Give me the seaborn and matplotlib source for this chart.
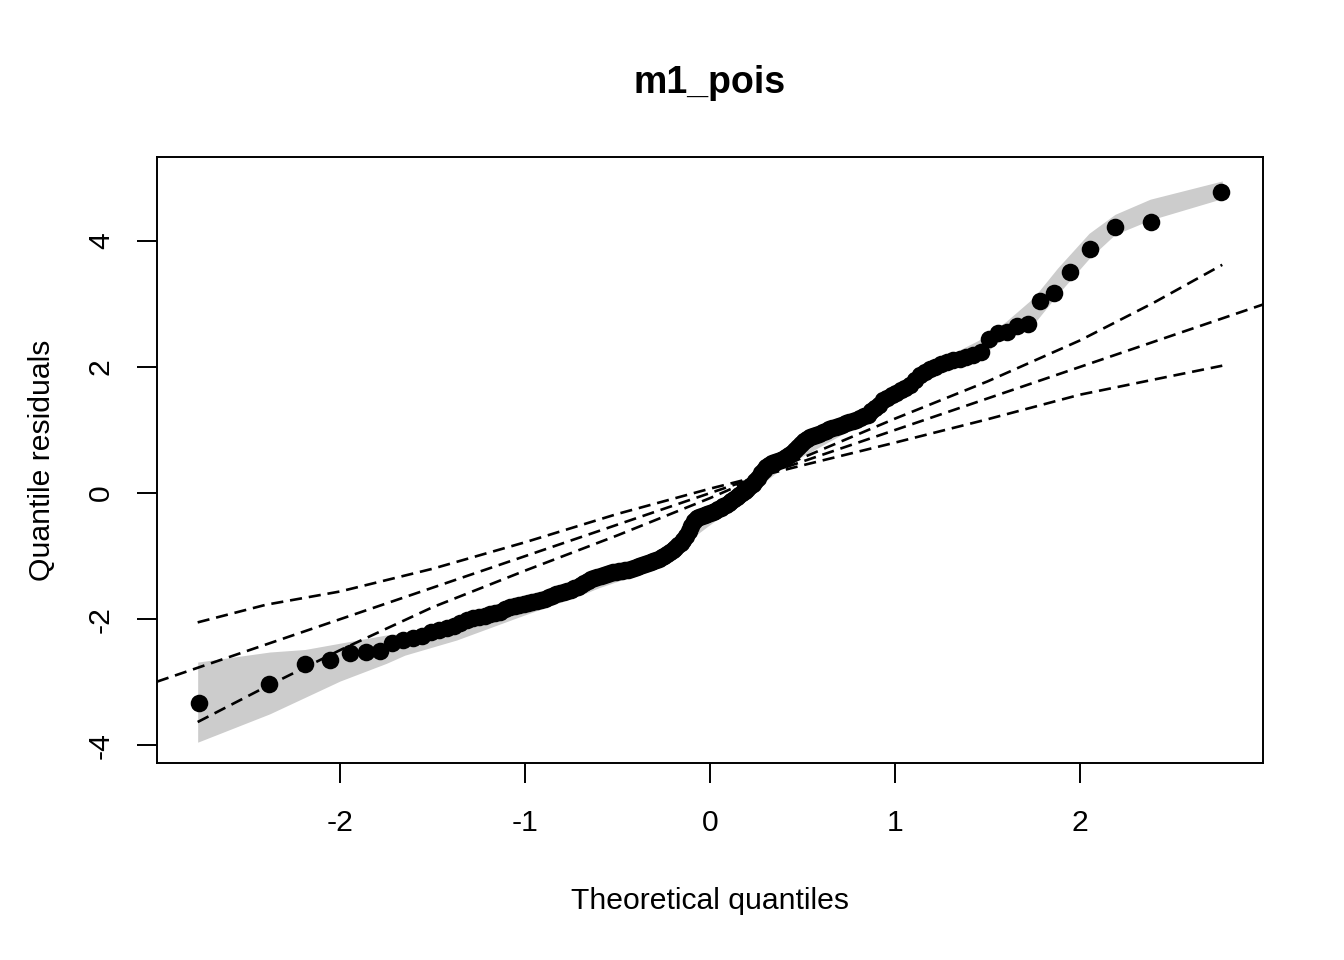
from statistics import NormalDist
import numpy as np
import pandas as pd
import matplotlib
matplotlib.use('Agg')
import matplotlib.pyplot as plt
import seaborn as sns

sns.set_style('ticks')
matplotlib.rcParams['font.family'] = ['Liberation Sans', 'DejaVu Sans']
matplotlib.rcParams['text.color'] = 'black'
matplotlib.rcParams['axes.labelcolor'] = 'black'

# sorted quantile residuals of m1_pois
resid = [
    -3.33, -3.02, -2.71, -2.65, -2.54, -2.52, -2.51, -2.37, -2.33, -2.30,
    -2.27, -2.21, -2.17, -2.14, -2.11, -2.06, -2.02, -1.98, -1.97, -1.95,
    -1.92, -1.90, -1.89, -1.84, -1.81, -1.79, -1.78, -1.76, -1.75, -1.73,
    -1.71, -1.70, -1.68, -1.65, -1.63, -1.60, -1.59, -1.57, -1.56, -1.54,
    -1.51, -1.49, -1.46, -1.43, -1.40, -1.37, -1.35, -1.33, -1.32, -1.30,
    -1.29, -1.27, -1.25, -1.25, -1.24, -1.24, -1.22, -1.22, -1.21, -1.19,
    -1.17, -1.16, -1.14, -1.13, -1.11, -1.10, -1.08, -1.06, -1.05, -1.02,
    -1.00, -0.97, -0.94, -0.90, -0.87, -0.83, -0.79, -0.75, -0.68, -0.60,
    -0.52, -0.44, -0.40, -0.38, -0.37, -0.35, -0.33, -0.32, -0.30, -0.29,
    -0.25, -0.24, -0.21, -0.19, -0.16, -0.13, -0.10, -0.06, -0.03, 0.00,
    0.03, 0.06, 0.11, 0.14, 0.19, 0.24, 0.32, 0.37, 0.41, 0.44,
    0.48, 0.49, 0.51, 0.52, 0.54, 0.57, 0.60, 0.63, 0.68, 0.73,
    0.78, 0.83, 0.86, 0.89, 0.90, 0.92, 0.94, 0.97, 0.98, 1.02,
    1.03, 1.05, 1.06, 1.08, 1.11, 1.13, 1.14, 1.16, 1.19, 1.22,
    1.24, 1.30, 1.35, 1.40, 1.48, 1.51, 1.56, 1.59, 1.63, 1.67,
    1.71, 1.79, 1.87, 1.92, 1.97, 2.00, 2.05, 2.08, 2.11, 2.13,
    2.16, 2.19, 2.24, 2.44, 2.54, 2.56, 2.65, 2.68, 3.05, 3.17,
    3.51, 3.87, 4.22, 4.30, 4.78,
]

# grey envelope
env_q = [-2.77, -2.38, -2.19, -2.0, -1.75, -1.65, -1.37, -1.0, -0.7, -0.6, -0.3,
         -0.1, 0.1, 0.4, 0.8, 1.2, 1.45, 1.6, 1.75, 1.88, 2.05, 2.19, 2.38, 2.77]
env_lo = [-3.95, -3.50, -3.24, -2.98, -2.70, -2.57, -2.33, -1.93, -1.62, -1.50, -1.20,
          -0.72, -0.28, 0.42, 1.07, 1.87, 2.12, 2.50, 2.68, 3.15, 3.72, 4.10, 4.33, 4.67]
env_hi = [-2.68, -2.52, -2.48, -2.38, -2.25, -2.22, -2.08, -1.72, -1.40, -1.28, -1.03,
          -0.45, -0.10, 0.60, 1.25, 2.05, 2.42, 2.72, 3.10, 3.57, 4.12, 4.42, 4.66, 4.95]

# the two curved dashed reference lines
ref_q = [-2.77, -2.4, -2.0, -1.5, -1.0, -0.5, 0.0, 0.5, 1.0, 1.5, 2.0, 2.4, 2.77]
ref_steep = [-3.63, -3.07, -2.49, -1.81, -1.23, -0.67, -0.08, 0.56, 1.18, 1.77, 2.42, 3.02, 3.62]
ref_flat = [-2.05, -1.77, -1.56, -1.20, -0.78, -0.33, 0.07, 0.44, 0.80, 1.17, 1.56, 1.80, 2.02]

n = len(resid)
nd = NormalDist()
theo = [nd.inv_cdf((i - 0.5) / n) for i in range(1, n + 1)]
df = pd.DataFrame({'theo': theo, 'resid': resid})

fig = plt.figure(figsize=(13.44, 9.6), dpi=100)
ax = fig.add_axes([0.1168, 0.2052, 0.8229, 0.6313])

ax.fill_between(env_q, env_lo, env_hi, color='#cccccc', linewidth=0, zorder=1)
sns.scatterplot(data=df, x='theo', y='resid', s=160, color='black',
                linewidth=0, ax=ax, zorder=3)

dash = dict(color='black', linewidth=1.9, dashes=(4.6, 2.6), zorder=2)
ax.axline((0, 0), slope=1, **dash)
ax.plot(ref_q, ref_steep, **dash)
ax.plot(ref_q, ref_flat, **dash)

ax.set_xlim(-2.99, 2.99)
ax.set_ylim(-4.28, 5.33)
ax.set_xticks([-2, -1, 0, 1, 2])
ax.set_yticks([-4, -2, 0, 2, 4])
ax.set_xticklabels(['-2', '-1', '0', '1', '2'])
ax.set_yticklabels(['-4', '-2', '0', '2', '4'], rotation=90, va='center')
ax.tick_params(direction='out', length=14.4, width=1.4, labelsize=21.7,
               color='black', labelcolor='black')
ax.tick_params(axis='x', pad=19)
ax.tick_params(axis='y', pad=16)
for sp in ax.spines.values():
    sp.set_linewidth(1.4)
    sp.set_color('black')

ax.set_xlabel('Theoretical quantiles', fontsize=21.7, labelpad=36)
ax.set_ylabel('Quantile residuals', fontsize=21.7, labelpad=22)
ax.set_title('m1_pois', fontsize=27, fontweight='bold', pad=46)

fig.savefig('out.png', dpi=100, facecolor='white')
